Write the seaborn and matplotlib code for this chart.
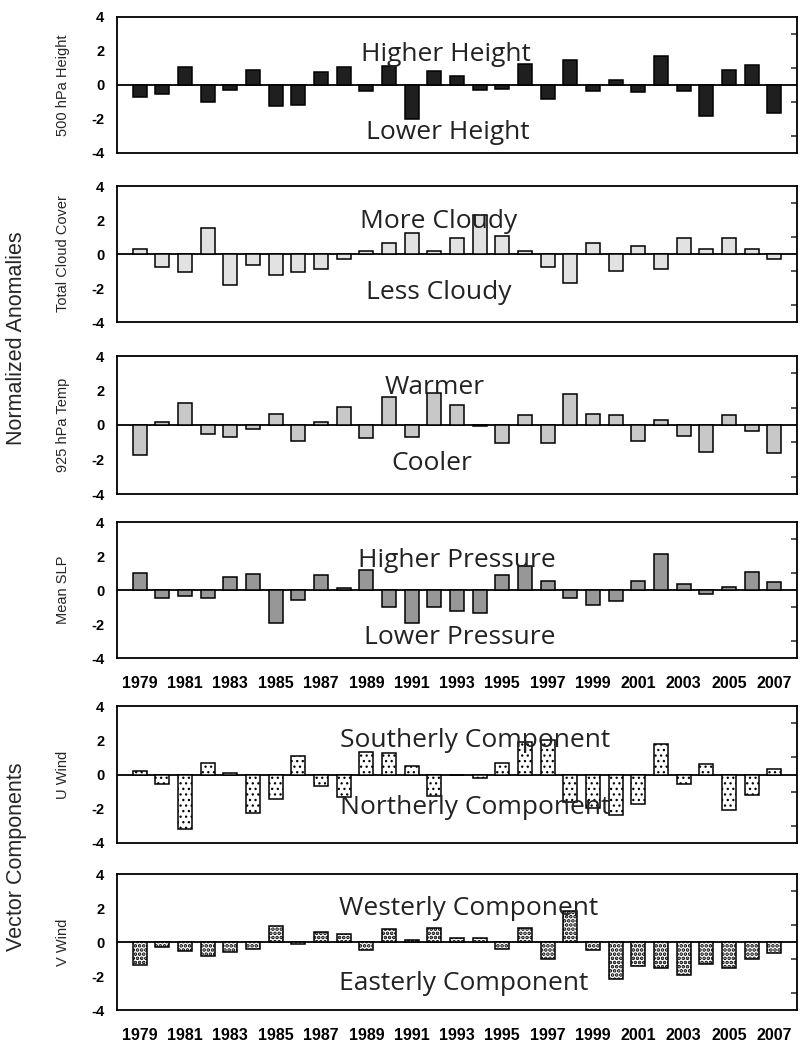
import matplotlib
matplotlib.use("Agg")
import matplotlib.pyplot as plt
import numpy as np
import pandas as pd
import seaborn as sns

years = list(range(1979, 2008))

height500 = [-0.70, -0.50, 1.06, -1.00, -0.30, 0.88, -1.24, -1.18, 0.74, 1.06,
             -0.38, 1.12, -2.00, 0.80, 0.52, -0.32, -0.26, 1.24, -0.82, 1.50,
             -0.38, 0.30, -0.44, 1.70, -0.38, -1.84, 0.90, 1.16, -1.62]
cloud = [0.31, -0.78, -1.06, 1.53, -1.80, -0.63, -1.22, -1.06, -0.88, -0.31,
         0.18, 0.63, 1.22, 0.16, 0.94, 2.27, 1.06, 0.16, -0.78, -1.69,
         0.63, -1.02, 0.47, -0.88, 0.94, 0.31, 0.94, 0.31, -0.31]
temp925 = [-1.76, 0.20, 1.26, -0.50, -0.72, -0.24, 0.66, -0.90, 0.20, 1.06,
           -0.78, 1.60, -0.72, 1.86, 1.16, -0.08, -1.06, 0.56, -1.06, 1.80,
           0.66, 0.56, -0.94, 0.30, -0.66, -1.54, 0.60, -0.32, -1.64]
slp = [1.00, -0.47, -0.35, -0.47, 0.78, 0.94, -1.92, -0.59, 0.90, 0.10,
       1.18, -1.00, -1.96, -1.00, -1.25, -1.37, 0.90, 1.39, 0.53, -0.47,
       -0.86, -0.63, 0.53, 2.12, 0.33, -0.25, 0.16, 1.06, 0.47]
uwind = [0.22, -0.57, -3.16, 0.69, 0.06, -2.27, -1.41, 1.06, -0.67, -1.31,
         1.29, 1.24, 0.47, -1.24, 0.00, -0.20, 0.69, 1.90, 2.04, -1.63,
         -1.96, -2.37, -1.73, 1.78, -0.57, 0.59, -2.10, -1.20, 0.31]
vwind = [-1.35, -0.27, -0.55, -0.82, -0.59, -0.43, 0.94, -0.10, 0.59, 0.47,
         -0.49, 0.76, 0.10, 0.84, 0.25, 0.25, -0.43, 0.84, -0.98, 1.80,
         -0.49, -2.18, -1.43, -1.55, -1.92, -1.27, -1.55, -1.02, -0.63]

series = [height500, cloud, temp925, slp, uwind, vwind]
panel_labels = ["500 hPa Height", "Total Cloud Cover", "925 hPa Temp",
                "Mean SLP", "U Wind", "V Wind"]
upper_text = ["Higher Height", "More Cloudy", "Warmer", "Higher Pressure",
              "Southerly Component", "Westerly Component"]
lower_text = ["Lower Height", "Less Cloudy", "Cooler", "Lower Pressure",
              "Northerly Component", "Easterly Component"]
group_labels = ["Normalized Anomalies", "Vector Components"]

colors = ["#1f1f1f", "#e2e2e2", "#c8c8c8", "#979797", "white", "white"]
hatches = [None, None, None, None, "...", "...."]
hatch_lw = [None, None, None, None, 0.9, 1.8]

# layout (pixel rows of the reference)
W, H = 801, 1044
left_px, right_px = 117, 797
rows_px = [(17, 153), (186, 322), (356, 494), (522, 658), (706, 843), (874, 1010)]
upper_pos = [(13.5, 1.40), (13.2, 1.55), (13.0, 1.82), (14.0, 1.33), (14.8, 1.60), (14.5, 1.60)]
lower_pos = [(13.6, -3.20), (13.2, -2.67), (12.9, -2.62), (14.1, -3.18), (14.8, -2.31), (14.3, -2.80)]

sns.set_style("white")
plt.rcParams["font.family"] = ["Liberation Sans", "DejaVu Sans"]
plt.rcParams["hatch.linewidth"] = 1.0

fig = plt.figure(figsize=(W / 100, H / 100), dpi=100)

for i, vals in enumerate(series):
    top, bot = rows_px[i]
    rect = [left_px / W, 1 - bot / H, (right_px - left_px) / W, (bot - top) / H]
    ax = fig.add_axes(rect)
    df = pd.DataFrame({"year": years, "value": vals})
    sns.barplot(data=df, x="year", y="value", color=colors[i], saturation=1,
                edgecolor="black", linewidth=1.1, width=0.62, ax=ax, zorder=3)
    if hatches[i]:
        for p in ax.patches:
            p.set_facecolor("white")
            p.set_hatch(hatches[i])
            if hasattr(p, "set_hatch_linewidth"):
                p.set_hatch_linewidth(hatch_lw[i])
    ax.axhline(0, color="black", lw=1.3, zorder=2)
    ax.set_xlim(-1, 29)
    ax.set_ylim(-4, 4)
    ax.set_yticks([-4, -2, 0, 2, 4])
    ax.set_yticks([-3, -1, 1, 3], minor=True)
    ax.set_xticks(range(0, 29, 2))
    ax.set_xticks(range(1, 29, 2), minor=True)
    if i in (3, 5):
        ax.set_xticklabels([str(y) for y in years[::2]], fontsize=11.5, fontweight="bold",
                           family=["Liberation Sans Narrow", "Liberation Sans"])
    else:
        ax.set_xticklabels([])
    ax.set_yticklabels(["-4", "-2", "0", "2", "4"], fontsize=10.5, fontweight="bold")
    ax.tick_params(axis="both", which="major", direction="out", length=5, width=1.1,
                   pad=4, colors="black")
    ax.tick_params(axis="both", which="minor", direction="in", length=4, width=1.1)
    ax.tick_params(axis="y", which="minor", right=True)
    ax.tick_params(axis="x", which="major", pad=8)
    ax.set_xlabel("")
    ax.set_ylabel("")
    for s in ax.spines.values():
        s.set_visible(True)
        s.set_color("black")
        s.set_linewidth(1.3)

    ux, uy = upper_pos[i]
    lx, ly = lower_pos[i]
    ax.text(ux, uy, upper_text[i], ha="center", va="baseline", fontsize=19,
            family="Open Sans", color="#222222", zorder=5)
    ax.text(lx, ly, lower_text[i], ha="center", va="baseline", fontsize=19,
            family="Open Sans", color="#222222", zorder=5)

    fig.text(63 / W, 1 - ((top + bot) / 2) / H, panel_labels[i], rotation=90,
             ha="center", va="center", fontsize=10.5)

fig.text(17 / W, 1 - 338 / H, group_labels[0], rotation=90, ha="center", va="center", fontsize=15.5)
fig.text(17 / W, 1 - 857 / H, group_labels[1], rotation=90, ha="center", va="center", fontsize=15.5)

fig.savefig("out.png", dpi=100)
